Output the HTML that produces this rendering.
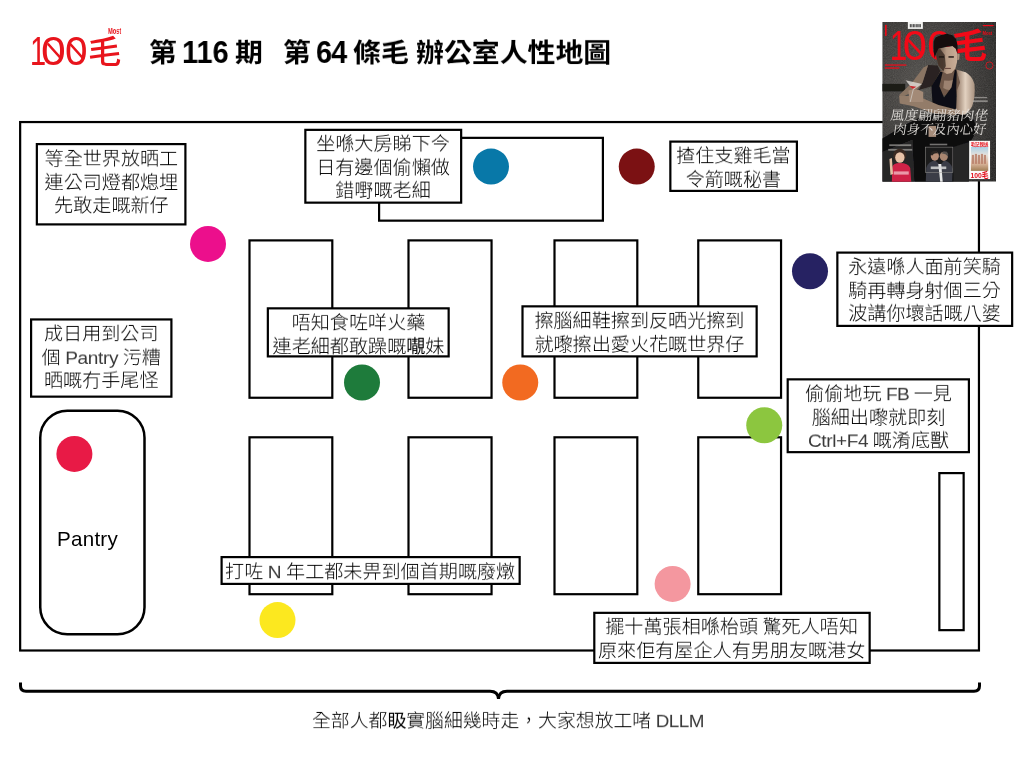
<!DOCTYPE html>
<html lang="zh-Hant">
<head>
<meta charset="utf-8">
<title>第 116 期 第 64 條毛 辦公室人性地圖</title>
<style>
html,body{margin:0;padding:0;background:#fff;}
body{width:1024px;height:768px;position:relative;overflow:hidden;
  font-family:"Liberation Sans","Noto Sans CJK TC",sans-serif;color:#000;}
#map{position:absolute;left:0;top:0;width:1024px;height:768px;}
.b{position:absolute;box-sizing:border-box;border:2.1px solid transparent;
  font-size:19.1px;line-height:24.7px;font-weight:300;text-align:center;white-space:nowrap;word-spacing:-0.8px;}
.x{transform:scale(1,0.953);transform-origin:50% 0;margin-top:2.6px;will-change:transform;}
.t{position:absolute;white-space:nowrap;will-change:transform;}
#title{position:absolute;left:0;top:0;font-weight:700;color:#000;}
#title span{position:absolute;white-space:nowrap;will-change:transform;transform-origin:0 0;}
#title .c{top:38.2px;font-size:27.9px;line-height:34px;transform:scale(1,0.93);}
#title .d{top:35.2px;font-size:31.5px;line-height:34px;transform:scale(0.919,1);}

#logo{position:absolute;left:0;top:0;color:#e8141c;}
#logo span{position:absolute;white-space:nowrap;will-change:transform;transform-origin:0 0;}
#logo .l1{top:26.6px;font-size:40.5px;line-height:48px;}
#logo .l2{left:87.6px;top:33px;font-size:29.5px;line-height:36px;font-weight:500;transform:scale(1.13,1.08);}
#logo .l3{left:107.6px;top:26.2px;font-size:8.6px;line-height:10px;font-weight:700;transform:scale(0.66,1);}
b{font-weight:400;}
.e{color:#3a3a3a;}
</style>
</head>
<body>
<svg id="map" width="1024" height="768" viewBox="0 0 1024 768" style="will-change:transform">
  <g fill="none" stroke="#000" stroke-width="2.2">
    <rect x="20.15" y="122.05" width="958.8" height="528.45"/>
    <rect x="379.1" y="137.85" width="223.8" height="82.8"/>
    <rect x="249.50" y="240.4" width="82.8" height="157.35"/>
    <rect x="408.50" y="240.4" width="83.05" height="157.35"/>
    <rect x="554.50" y="240.4" width="82.8" height="157.35"/>
    <rect x="698.25" y="240.4" width="82.8" height="157.35"/>
    <rect x="249.50" y="437.3" width="82.8" height="156.9"/>
    <rect x="408.50" y="437.3" width="83.05" height="156.9"/>
    <rect x="554.50" y="437.3" width="82.8" height="156.9"/>
    <rect x="698.25" y="437.3" width="82.8" height="156.9"/>
    <rect x="939.35" y="473.1" width="24.3" height="157.05"/>
    <rect x="40.25" y="410.75" width="104.25" height="223.5" rx="27" ry="27" stroke-width="2.5"/>
  </g>
  <g stroke="none">
    <circle cx="491" cy="166.6" r="18" fill="#0878a8"/>
    <circle cx="636.75" cy="166.6" r="18" fill="#7b1113"/>
    <circle cx="208" cy="243.9" r="18" fill="#ec0f8c"/>
    <circle cx="810" cy="271.25" r="18" fill="#262262"/>
    <circle cx="362" cy="382.5" r="18" fill="#1e7b3b"/>
    <circle cx="520.25" cy="382.5" r="18" fill="#f26a21"/>
    <circle cx="764.25" cy="425.25" r="18" fill="#8cc63f"/>
    <circle cx="74.4" cy="453.9" r="18" fill="#e81a46"/>
    <circle cx="277.5" cy="620.1" r="18" fill="#fce81f"/>
    <circle cx="672.6" cy="583.9" r="18" fill="#f4979f"/>
  </g>

  <g fill="#fff" stroke="#000" stroke-width="2.2">
    <rect x="36.85" y="144.10" width="148.55" height="80.30"/>
    <rect x="305.35" y="129.85" width="155.80" height="72.80"/>
    <rect x="670.35" y="141.60" width="126.55" height="49.30"/>
    <rect x="31.10" y="319.45" width="140.30" height="77.20"/>
    <rect x="267.85" y="308.35" width="180.80" height="48.05"/>
    <rect x="522.50" y="306.35" width="234.15" height="50.05"/>
    <rect x="837.35" y="252.60" width="174.80" height="73.30"/>
    <rect x="787.70" y="379.35" width="181.20" height="72.80"/>
    <rect x="221.60" y="557.10" width="298.05" height="26.80"/>
    <rect x="594.30" y="612.85" width="275.35" height="50.05"/>
  </g>
  <defs>
    <radialGradient id="cbg" cx="0.36" cy="0.40" r="0.75">
      <stop offset="0" stop-color="#53514e"/>
      <stop offset="0.5" stop-color="#413f3d"/>
      <stop offset="1" stop-color="#2a2928"/>
    </radialGradient>
    <linearGradient id="skinA" x1="0" y1="0" x2="1" y2="0">
      <stop offset="0" stop-color="#8a705e"/>
      <stop offset="0.5" stop-color="#e2d1c0"/>
      <stop offset="1" stop-color="#a8917f"/>
    </linearGradient>
    <linearGradient id="skinF" x1="0" y1="0" x2="1" y2="0">
      <stop offset="0" stop-color="#5c473a"/>
      <stop offset="0.5" stop-color="#b89c86"/>
      <stop offset="1" stop-color="#c9ae98"/>
    </linearGradient>
    <linearGradient id="pic" x1="0" y1="0" x2="0" y2="1">
      <stop offset="0" stop-color="#a9cfe6"/>
      <stop offset="0.35" stop-color="#e6e2dc"/>
      <stop offset="0.7" stop-color="#d9b49a"/>
      <stop offset="1" stop-color="#a07e55"/>
    </linearGradient>
    <filter id="blur1" x="-20%" y="-20%" width="140%" height="140%"><feGaussianBlur stdDeviation="0.6"/></filter>
    <filter id="blur2" x="-20%" y="-20%" width="140%" height="140%"><feGaussianBlur stdDeviation="0.3"/></filter>
    <filter id="grain" x="0" y="0" width="100%" height="100%">
      <feTurbulence type="fractalNoise" baseFrequency="0.9" numOctaves="2" seed="7" result="n"/>
      <feColorMatrix in="n" type="matrix" values="0 0 0 0 0.5  0 0 0 0 0.48  0 0 0 0 0.45  0.9 0.9 0 0 -0.62"/>
    </filter>
    <clipPath id="cclip"><rect x="0" y="0" width="113.75" height="159.75"/></clipPath>
  </defs>
  <g id="cover" transform="translate(882.25 21.9)" clip-path="url(#cclip)">
    <rect x="0" y="0" width="113.75" height="159.75" fill="url(#cbg)"/>
    <rect x="0" y="0" width="113.75" height="159.75" filter="url(#grain)" opacity="0.22"/>
    <rect x="0" y="62" width="23" height="7.5" fill="#1c1a19" filter="url(#blur1)"/>
    <!-- logo on cover -->
    <g fill="#f20a18" font-family="'Liberation Sans','Noto Sans CJK TC',sans-serif">
      <text transform="translate(7.4 38.4) scale(0.74 1)" font-size="42.6">1</text>
      <text transform="translate(20.6 38.4) scale(1.02 1)" font-size="42.6">0</text>
      <text transform="translate(44.9 38.4) scale(1.02 1)" font-size="42.6">0</text>
      <text transform="translate(69.6 35.6) scale(1.16 1.12)" font-size="30.5" font-weight="700">毛</text>
      <text transform="translate(100.2 12.7) scale(0.68 1)" font-size="6.2" font-weight="700">Most</text>
      <rect x="100.6" y="3.1" width="10.8" height="1.2"/>
      <rect x="2.6" y="42.4" width="21.5" height="1.5" opacity="0.8"/>
      <rect x="2.6" y="45.4" width="14.5" height="1.5" opacity="0.8"/>
      <rect x="2.8" y="3" width="1.6" height="11"/>
      <circle cx="107.2" cy="43.6" r="3.6" fill="none" stroke="#d31620" stroke-width="0.9"/>
    </g>
    <g stroke="#f20a18" stroke-width="2.7" stroke-linecap="round"><line x1="26.5" y1="18.5" x2="38.5" y2="31.5"/></g>
    <!-- barcode -->
    <rect x="25.6" y="0" width="15" height="7" fill="#f4f4f2"/>
    <g fill="#222"><rect x="27.6" y="2.2" width="0.9" height="3.2"/><rect x="29.2" y="2.2" width="0.6" height="3.2"/><rect x="30.4" y="2.2" width="1.1" height="3.2"/><rect x="32.2" y="2.2" width="0.6" height="3.2"/><rect x="33.4" y="2.2" width="1" height="3.2"/><rect x="35" y="2.2" width="0.6" height="3.2"/><rect x="36.2" y="2.2" width="1.1" height="3.2"/><rect x="37.9" y="2.2" width="0.7" height="3.2"/></g>
    <!-- man -->
    <g filter="url(#blur1)">
      <!-- dark lower body and leg -->
      <path d="M22.5 103 L0 116.6 L0 130.4 L30 118 L32 160 L86 160 L88 120 Q96 110 92 98 L74 88 L40 94 Z" fill="#0f0f11"/>
      <path d="M0 130 L30 118 L32 160 L0 160 Z" fill="#262527"/>
      <path d="M71 125 L87 120 L86.5 160 L71 160 Z" fill="#252525"/>
      <!-- left arm: shadow side and lit edge -->
      <path d="M45.9 43.2 L55.3 43.7 L58.1 49.4 L49.6 64.4 L36.5 68.1 L40.3 60.6 Z" fill="#2b2320"/>
      <path d="M45.9 43.2 L40.3 60.6 L34.6 68.1 L18 76 L17 73 L29.9 60.6 L41.2 45.6 Z" fill="#8a7463"/>
      <!-- chest -->
      <path d="M58.1 49.4 L74 47.5 L77.8 60.6 L74 73.7 L53.4 73.7 L50.6 64.4 Z" fill="#6f5849"/>
      <path d="M62 58 Q68 60 73 57 L73 66 Q67 70 61 66 Z" fill="#a88d79" opacity="0.8"/>
      <!-- neck -->
      <path d="M59.9 49.4 L73.1 46.5 L74 49.4 L70.3 57.8 L61.8 58.7 Z" fill="#6d5648"/>
      <!-- tank top -->
      <path d="M58.1 49.8 L60.4 50.3 L57.1 64.4 L61.8 75.6 L69.3 65.3 L72.6 47.9 L74.5 47.9 L74 68.1 L75 90 L50.6 88 L49.2 64.4 Z" fill="#111013"/>
      <!-- right arm, bright -->
      <path d="M74 47.5 L83.4 50.3 Q90 54 92.2 62 Q93.4 74 90 84 Q86 92 80 93 L73.6 91.6 L74.9 68.1 L77.8 60.6 Z" fill="url(#skinA)"/>
      <!-- forearm crossing -->
      <path d="M16.9 74.1 L35 74.1 L56.3 83 L73.8 87.5 L73.8 93 L52.5 91.5 L31.3 84.4 L17.5 81.6 Z" fill="#937b69"/>
      <path d="M46.3 104 L53.8 104 L53.8 115 L46.3 115 Z" fill="#a78d7a"/>
      <!-- hand -->
      <path d="M26.2 68.5 Q34 66 41 70 L41 80 L27 80 Z" fill="#a38a77"/>
      <!-- face -->
      <path d="M53.9 27.8 L56.2 26.4 L70.3 24 L74 26.9 L75.1 32.5 L74.8 40 L73.1 46.5 L69.3 51.2 L64.6 52.2 L59.9 49.4 L56.2 43.7 L54.3 36.2 Z" fill="url(#skinF)"/>
      <path d="M53.9 27.8 L58 27 L62.5 33 L63.5 44 L61 49.6 L56.2 43.7 L54.3 36.2 Z" fill="#3d2e26" opacity="0.85"/>
      <path d="M75 31.5 L77.4 32 L77 37.6 L75 38.4 Z" fill="#b0927d"/>
      <rect x="56.6" y="34.3" width="5.2" height="1.5" fill="#1e1714"/>
      <rect x="66.2" y="34.3" width="5.4" height="1.5" fill="#2a201b"/>
      <rect x="62.6" y="46" width="6" height="1.1" fill="#6b4a3f"/>
      <!-- hair -->
      <path d="M51.5 19.4 L53.4 15.6 L58.1 13.3 L64.6 11.9 L70.3 13.3 L74 17.5 L75.4 24 L75.1 31.5 L73.5 26.9 L70.3 24 L62.8 25 L56.2 26.9 L53.9 31.5 L52.4 36.2 L51.3 28.7 Z" fill="#121111"/>
    </g>
    <!-- glass -->
    <g filter="url(#blur2)">
      <path d="M23.4 58.3 L39.8 62 L30.9 68.1 Z" fill="#e2ddd8" opacity="0.8"/>
      <path d="M27.1 63.9 L34.2 64.8 L30.4 67.2 Z" fill="#c8262c"/>
      <path d="M30.9 68.1 L28 80" stroke="#cfc9c3" stroke-width="0.8" fill="none"/>
    </g>
    <!-- headline -->
    <g fill="#e9e6e2" font-family="'Liberation Serif','Noto Serif CJK TC',serif" font-weight="400" opacity="0.92">
      <text transform="translate(7.6 98.4) skewX(-8)" font-size="13.4" textLength="98" lengthAdjust="spacingAndGlyphs">風度翩翩豬肉佬</text>
      <text transform="translate(10.6 112.2) skewX(-8)" font-size="13.4" textLength="93" lengthAdjust="spacingAndGlyphs">肉身不及內心好</text>
    </g>
    <g fill="#c9c6c2" opacity="0.55"><rect x="7" y="122.4" width="22" height="1.8"/><rect x="6" y="127" width="24" height="1.8"/><rect x="47.5" y="121.8" width="17.5" height="1.6"/><rect x="92" y="75" width="13" height="1.4"/><rect x="90.5" y="78.4" width="15" height="1.8"/></g>
    <!-- girl -->
    <g filter="url(#blur2)">
      <ellipse cx="17.5" cy="133.6" rx="6.6" ry="6.8" fill="#3b2a22"/>
      <ellipse cx="17.6" cy="135.6" rx="4.7" ry="5.2" fill="#e9c3a8"/>
      <path d="M9.6 160 L10 145 Q11 141 17.5 141 Q26 141 28 146 L29 160 Z" fill="#cf2347"/>
      <path d="M7.2 137 L9.6 136 L10.8 152 L8.2 153 Z" fill="#e4bea3"/>
      <rect x="11.5" y="149.5" width="15" height="3.2" fill="#f0b7c2" opacity="0.8"/>
    </g>
    <!-- two men -->
    <g filter="url(#blur2)">
      <rect x="43" y="125.2" width="27.6" height="25.4" fill="#1d1c1e"/>
      <path d="M43.5 160 L44 146 Q46 139 53 138.5 L58 143 L62 138.5 Q69 140 70.4 147 L70 160 Z" fill="#3a3e46"/>
      <path d="M56 142 L58 160 L60.5 160 L59 142 Z" fill="#e8e8e8"/>
      <ellipse cx="52.6" cy="134.2" rx="4.1" ry="4.6" fill="#b58d76"/>
      <ellipse cx="61.6" cy="134.4" rx="4.1" ry="4.6" fill="#a98670"/>
      <path d="M48.4 133 Q49 128.6 53.4 129 Q56 129.6 55.6 131.6 Q52 130.6 50 133.6 Z" fill="#2a2624"/>
      <path d="M59 131.4 Q61 128.8 64.6 129.8 Q66.4 131.4 65.8 135 Q64 131.8 59 131.4 Z" fill="#55504c"/>
      <rect x="48.5" y="144.6" width="15.5" height="2.6" fill="#d6d6d6" opacity="0.85"/>
    </g>
    <rect x="43" y="125.2" width="27.6" height="25.4" fill="none" stroke="#9a9894" stroke-width="0.5"/>
    <!-- side box -->
    <rect x="86.9" y="118.9" width="20.9" height="38.3" fill="#fbfbfa"/>
    <rect x="88.6" y="124.8" width="17.4" height="24.2" fill="url(#pic)"/>
    <g fill="#b9806a" opacity="0.85"><rect x="89.6" y="133" width="2.2" height="9"/><rect x="92.6" y="132" width="2.2" height="10"/><rect x="95.6" y="133" width="2.2" height="9"/><rect x="98.6" y="132" width="2.2" height="10"/><rect x="101.6" y="133" width="2.2" height="9"/></g>
    <g fill="#e3101c" font-family="'Liberation Sans','Noto Sans CJK TC',sans-serif" font-weight="700">
      <text x="88.4" y="124" font-size="4.4" textLength="17.8" lengthAdjust="spacingAndGlyphs">毛記親送</text>
      <text x="88.2" y="156.2" font-size="7.6" textLength="18.2" lengthAdjust="spacingAndGlyphs">100毛</text>
    </g>
  </g>
  <path d="M20.5 682.5 V686 Q20.5 691.2 26 691.2 H490 Q498 691.2 498.5 699 Q499 691.2 507 691.2 H974 Q979.5 691.2 979.5 686 V682.5" fill="none" stroke="#000" stroke-width="3"/>
</svg>

<div class="b" style="left:35.75px;top:143px;width:150.75px;height:82.5px;"><div class="x">等全世界放晒工<br>連公司燈都熄埋<br>先敢走嘅新仔</div></div>
<div class="b" style="left:304.25px;top:128.75px;width:158px;height:75px;"><div class="x">坐喺大房睇下今<br>日有邊個偷懶做<br>錯嘢嘅老細</div></div>
<div class="b" style="left:669.25px;top:140.5px;width:128.75px;height:51.5px;"><div class="x">揸住支雞毛當<br>令箭嘅秘書</div></div>
<div class="b" style="left:30px;top:318.75px;width:142.5px;height:79px;"><div class="x">成日用到公司<br>個 <span class="e" style="letter-spacing:-0.35px">Pantry</span> 污糟<br>晒嘅冇手尾怪</div></div>
<div class="b" style="left:266.75px;top:307.25px;width:183px;height:50.25px;"><div class="x">唔知食咗咩火藥<br>連老細都敢躁嘅<b>𡃁</b>妹</div></div>
<div class="b" style="left:520.9px;top:305.25px;width:236.85px;height:52.25px;"><div class="x">擦腦細鞋擦到反晒光擦到<br>就嚟擦出愛火花嘅世界仔</div></div>
<div class="b" style="left:836.25px;top:251.5px;width:177px;height:75.5px;"><div class="x">永遠喺人面前笑騎<br>騎再轉身射個三分<br>波講你壞話嘅八婆</div></div>
<div class="b" style="left:787px;top:378.25px;width:183px;height:75px;"><div class="x">偷偷地玩 <span class="e" style="letter-spacing:-0.6px">FB</span> 一見<br>腦細出嚟就即刻<br><span class="e" style="letter-spacing:-0.4px">Ctrl+F4</span> 嘅淆底獸</div></div>
<div class="b" style="left:219.9px;top:556px;width:300.25px;height:29px;"><div class="x">打咗 <span class="e">N</span> 年工都未畀到個首期嘅廢燉</div></div>
<div class="b" style="left:592.9px;top:611.75px;width:277.25px;height:52.25px;"><div class="x">擺十萬張相喺枱頭 驚死人唔知<br>原來佢有屋企人有男朋友嘅港女</div></div>

<div class="t" id="pantry" style="left:56.5px;top:526.7px;font-size:20.6px;line-height:24px;color:#000;letter-spacing:0.25px;">Pantry</div>
<div class="t" id="caption" style="left:312.4px;top:710.1px;font-size:18.85px;line-height:24.7px;font-weight:300;word-spacing:-0.8px;transform:scale(1,0.953);transform-origin:0 0;">全部人都<b>𥄫</b>實腦細幾時走，大家想放工啫 <span class="e" style="letter-spacing:-0.5px">DLLM</span></div>


<div id="logo">
  <span class="l1" style="left:30.2px;transform:scale(0.72,1)">1</span><span class="l1" style="left:40.9px;transform:scale(1.1,1)">0</span><span class="l1" style="left:65.3px">0</span><span class="l2">毛</span><span class="l3">Most</span>
  <svg width="130" height="80" viewBox="0 0 130 80" style="position:absolute;left:0;top:0"><g stroke="#e8141c" stroke-width="2.6" stroke-linecap="round" fill="none"><line x1="48.5" y1="44.5" x2="61" y2="58.5"/><line x1="70.7" y1="44.5" x2="83.2" y2="58.5"/></g></svg>
</div>

<div id="title"><span class="c" style="left:148.9px">第</span><span class="d" style="left:181.6px">116</span><span class="c" style="left:235.2px">期</span><span class="c" style="left:282.9px">第</span><span class="d" style="left:315.9px;letter-spacing:-1px">64</span><span class="c" style="left:352.8px">條毛</span><span class="c" style="left:416px">辦公室人性地圖</span></div>
</body>
</html>
